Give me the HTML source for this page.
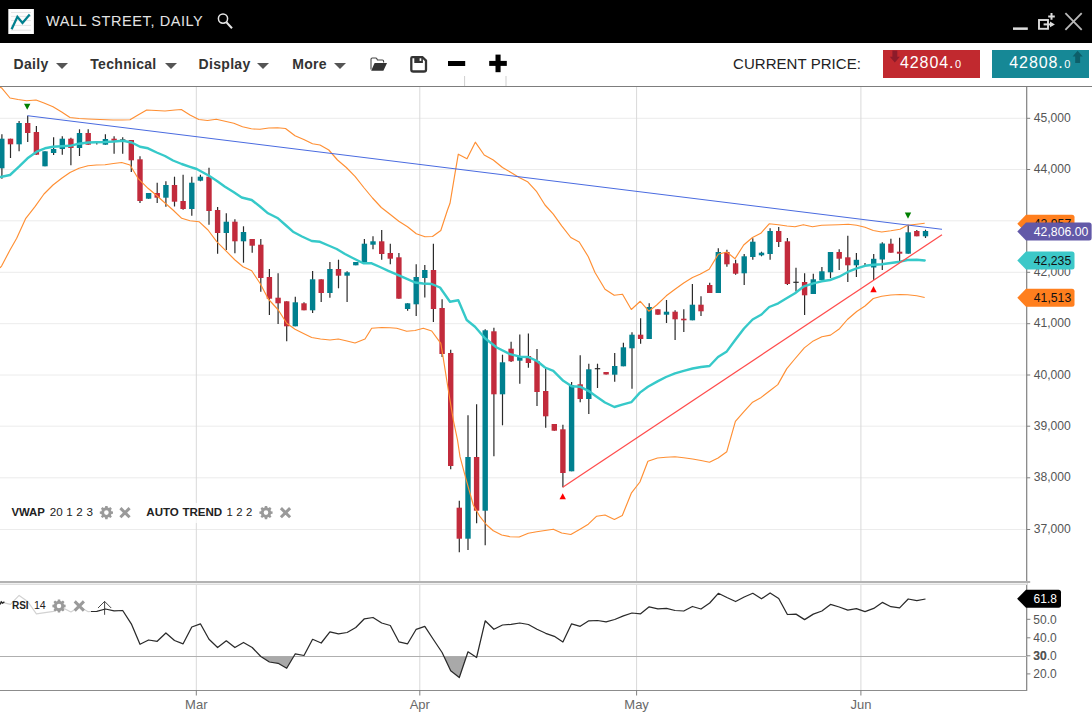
<!DOCTYPE html>
<html><head><meta charset="utf-8"><title>Wall Street, Daily</title>
<style>
html,body{margin:0;padding:0;background:#fff;}
body{width:1092px;height:720px;position:relative;overflow:hidden;font-family:"Liberation Sans",sans-serif;}
#tb{position:absolute;left:0;top:0;width:1092px;height:42.5px;background:#000;}
#ttl{position:absolute;left:46px;top:11.9px;font-size:14.5px;line-height:18px;color:#e4e4e4;letter-spacing:0.58px;white-space:nowrap;}
#bar{position:absolute;left:0;top:43px;width:1092px;height:43px;background:#fff;border-bottom:1px solid #7d7d7d;}
.mi{position:absolute;top:55.3px;font-weight:bold;font-size:14px;line-height:18px;color:#333;letter-spacing:0.3px;white-space:nowrap;}
.ar{position:absolute;top:62.6px;width:0;height:0;border-left:6px solid transparent;border-right:6px solid transparent;border-top:6px solid #555;margin-left:-0.3px;}
#cp{position:absolute;left:733px;top:54.5px;font-size:15px;line-height:18px;color:#222;white-space:nowrap;letter-spacing:0.05px;}
.pb{position:absolute;top:50px;height:28px;color:#fff;font-size:16px;line-height:28px;letter-spacing:0.9px;white-space:nowrap;}
.pb span{position:absolute;top:-1.5px;}
.pb small{font-size:11px;letter-spacing:0;margin-left:0.6px;}
svg text{font-family:"Liberation Sans",sans-serif;}
.ax{font-size:12px;fill:#555;}
.tg{font-size:12px;}
.mo{font-size:13px;fill:#686868;}
.lg{font-size:11.6px;fill:#222;word-spacing:0.35px;}
</style></head><body>
<svg width="1092" height="720" viewBox="0 0 1092 720" style="position:absolute;left:0;top:0">
<defs><clipPath id="cm"><rect x="0" y="87" width="1027" height="495"/></clipPath><clipPath id="c30"><rect x="0" y="656.2" width="1027" height="34"/></clipPath></defs>
<line x1="0" y1="118.3" x2="1027" y2="118.3" stroke="#ececec" stroke-width="1"/>
<line x1="0" y1="169.5" x2="1027" y2="169.5" stroke="#ececec" stroke-width="1"/>
<line x1="0" y1="220.8" x2="1027" y2="220.8" stroke="#ececec" stroke-width="1"/>
<line x1="0" y1="272.3" x2="1027" y2="272.3" stroke="#ececec" stroke-width="1"/>
<line x1="0" y1="323.7" x2="1027" y2="323.7" stroke="#ececec" stroke-width="1"/>
<line x1="0" y1="375" x2="1027" y2="375" stroke="#ececec" stroke-width="1"/>
<line x1="0" y1="426.2" x2="1027" y2="426.2" stroke="#ececec" stroke-width="1"/>
<line x1="0" y1="477.8" x2="1027" y2="477.8" stroke="#ececec" stroke-width="1"/>
<line x1="0" y1="529.5" x2="1027" y2="529.5" stroke="#ececec" stroke-width="1"/>
<line x1="196.3" y1="87" x2="196.3" y2="690" stroke="#d9d9d9" stroke-width="1"/>
<line x1="419.8" y1="87" x2="419.8" y2="690" stroke="#d9d9d9" stroke-width="1"/>
<line x1="636.6" y1="87" x2="636.6" y2="690" stroke="#d9d9d9" stroke-width="1"/>
<line x1="860.9" y1="87" x2="860.9" y2="690" stroke="#d9d9d9" stroke-width="1"/>
<g clip-path="url(#cm)">
<line x1="1.9" y1="134.3" x2="1.9" y2="178.7" stroke="#2b2b2b" stroke-width="1.2"/>
<rect x="-0.9" y="138.7" width="5.4" height="29.6" fill="#00808f"/>
<line x1="10.5" y1="138.7" x2="10.5" y2="158" stroke="#2b2b2b" stroke-width="1.2"/>
<rect x="7.8" y="138.7" width="5.4" height="5.6" fill="#c22b3c"/>
<line x1="19.1" y1="121" x2="19.1" y2="151.3" stroke="#2b2b2b" stroke-width="1.2"/>
<rect x="16.4" y="123" width="5.4" height="21.3" fill="#00808f"/>
<line x1="27.7" y1="115.7" x2="27.7" y2="142" stroke="#2b2b2b" stroke-width="1.2"/>
<rect x="25" y="123" width="5.4" height="10" fill="#c22b3c"/>
<line x1="36.4" y1="126" x2="36.4" y2="154.7" stroke="#2b2b2b" stroke-width="1.2"/>
<rect x="33.7" y="132" width="5.4" height="22.7" fill="#c22b3c"/>
<line x1="45" y1="151.3" x2="45" y2="166.3" stroke="#2b2b2b" stroke-width="1.2"/>
<rect x="42.3" y="151.3" width="5.4" height="15" fill="#00808f"/>
<line x1="53.6" y1="137.3" x2="53.6" y2="155" stroke="#2b2b2b" stroke-width="1.2"/>
<rect x="50.9" y="149" width="5.4" height="4" fill="#00808f"/>
<line x1="62.3" y1="136.3" x2="62.3" y2="154.7" stroke="#2b2b2b" stroke-width="1.2"/>
<rect x="59.6" y="138.7" width="5.4" height="10.3" fill="#00808f"/>
<line x1="70.9" y1="137.7" x2="70.9" y2="165.3" stroke="#2b2b2b" stroke-width="1.2"/>
<rect x="68.2" y="138.7" width="5.4" height="9.3" fill="#c22b3c"/>
<line x1="79.5" y1="129.3" x2="79.5" y2="156" stroke="#2b2b2b" stroke-width="1.2"/>
<rect x="76.8" y="133" width="5.4" height="15" fill="#00808f"/>
<line x1="88.2" y1="129.3" x2="88.2" y2="144.7" stroke="#2b2b2b" stroke-width="1.2"/>
<rect x="85.5" y="133" width="5.4" height="11.7" fill="#c22b3c"/>
<line x1="96.8" y1="142.3" x2="96.8" y2="144.6" stroke="#2b2b2b" stroke-width="1.2"/>
<line x1="105.4" y1="134.3" x2="105.4" y2="144.7" stroke="#2b2b2b" stroke-width="1.2"/>
<rect x="102.7" y="139" width="5.4" height="5.7" fill="#00808f"/>
<line x1="114.1" y1="136.3" x2="114.1" y2="153.7" stroke="#2b2b2b" stroke-width="1.2"/>
<rect x="111.4" y="138.7" width="5.4" height="2" fill="#c22b3c"/>
<line x1="122.7" y1="137.3" x2="122.7" y2="153.7" stroke="#2b2b2b" stroke-width="1.2"/>
<line x1="120" y1="140" x2="125.4" y2="140" stroke="#2b2b2b" stroke-width="1.2"/>
<line x1="131.3" y1="140" x2="131.3" y2="172" stroke="#2b2b2b" stroke-width="1.2"/>
<rect x="128.6" y="140" width="5.4" height="20.3" fill="#c22b3c"/>
<line x1="140" y1="156.3" x2="140" y2="203" stroke="#2b2b2b" stroke-width="1.2"/>
<rect x="137.3" y="159.3" width="5.4" height="41.7" fill="#c22b3c"/>
<line x1="148.6" y1="193" x2="148.6" y2="198.7" stroke="#2b2b2b" stroke-width="1.2"/>
<rect x="145.9" y="193" width="5.4" height="5.7" fill="#00808f"/>
<line x1="157.2" y1="182.7" x2="157.2" y2="203" stroke="#2b2b2b" stroke-width="1.2"/>
<rect x="154.5" y="193" width="5.4" height="4.7" fill="#c22b3c"/>
<line x1="165.9" y1="181.3" x2="165.9" y2="206.7" stroke="#2b2b2b" stroke-width="1.2"/>
<rect x="163.2" y="185" width="5.4" height="12.7" fill="#00808f"/>
<line x1="174.5" y1="176.7" x2="174.5" y2="206.5" stroke="#2b2b2b" stroke-width="1.2"/>
<rect x="171.8" y="185" width="5.4" height="16.7" fill="#c22b3c"/>
<line x1="183.1" y1="174.7" x2="183.1" y2="209.7" stroke="#2b2b2b" stroke-width="1.2"/>
<rect x="180.4" y="201" width="5.4" height="8" fill="#c22b3c"/>
<line x1="191.8" y1="176.7" x2="191.8" y2="215.7" stroke="#2b2b2b" stroke-width="1.2"/>
<rect x="189.1" y="182.7" width="5.4" height="26.3" fill="#00808f"/>
<line x1="200.4" y1="174.7" x2="200.4" y2="181.3" stroke="#2b2b2b" stroke-width="1.2"/>
<rect x="197.7" y="176.7" width="5.4" height="4" fill="#00808f"/>
<line x1="209" y1="167.7" x2="209" y2="224.7" stroke="#2b2b2b" stroke-width="1.2"/>
<rect x="206.3" y="176.7" width="5.4" height="34.3" fill="#c22b3c"/>
<line x1="217.6" y1="207" x2="217.6" y2="253.7" stroke="#2b2b2b" stroke-width="1.2"/>
<rect x="214.9" y="210" width="5.4" height="23" fill="#c22b3c"/>
<line x1="226.3" y1="213.3" x2="226.3" y2="250" stroke="#2b2b2b" stroke-width="1.2"/>
<rect x="223.6" y="221.7" width="5.4" height="11.3" fill="#00808f"/>
<line x1="234.9" y1="219.3" x2="234.9" y2="253.3" stroke="#2b2b2b" stroke-width="1.2"/>
<rect x="232.2" y="221.7" width="5.4" height="19.6" fill="#c22b3c"/>
<line x1="243.5" y1="226.3" x2="243.5" y2="262.7" stroke="#2b2b2b" stroke-width="1.2"/>
<rect x="240.8" y="232" width="5.4" height="9.3" fill="#00808f"/>
<line x1="252.2" y1="239" x2="252.2" y2="252.7" stroke="#2b2b2b" stroke-width="1.2"/>
<rect x="249.5" y="239" width="5.4" height="6.7" fill="#c22b3c"/>
<line x1="260.8" y1="239" x2="260.8" y2="291.7" stroke="#2b2b2b" stroke-width="1.2"/>
<rect x="258.1" y="244.7" width="5.4" height="33.3" fill="#c22b3c"/>
<line x1="269.4" y1="269" x2="269.4" y2="315" stroke="#2b2b2b" stroke-width="1.2"/>
<rect x="266.7" y="277" width="5.4" height="21.7" fill="#c22b3c"/>
<line x1="278.1" y1="273.3" x2="278.1" y2="324" stroke="#2b2b2b" stroke-width="1.2"/>
<rect x="275.4" y="297.7" width="5.4" height="5.6" fill="#c22b3c"/>
<line x1="286.7" y1="301.3" x2="286.7" y2="341.3" stroke="#2b2b2b" stroke-width="1.2"/>
<rect x="284" y="301.3" width="5.4" height="25" fill="#c22b3c"/>
<line x1="295.3" y1="296.7" x2="295.3" y2="326.3" stroke="#2b2b2b" stroke-width="1.2"/>
<rect x="292.6" y="302.3" width="5.4" height="24" fill="#00808f"/>
<line x1="304" y1="302.3" x2="304" y2="310.3" stroke="#2b2b2b" stroke-width="1.2"/>
<rect x="301.3" y="303.3" width="5.4" height="7" fill="#c22b3c"/>
<line x1="312.6" y1="271" x2="312.6" y2="313" stroke="#2b2b2b" stroke-width="1.2"/>
<rect x="309.9" y="279.3" width="5.4" height="31" fill="#00808f"/>
<line x1="321.2" y1="279.3" x2="321.2" y2="302" stroke="#2b2b2b" stroke-width="1.2"/>
<rect x="318.5" y="279.3" width="5.4" height="13.7" fill="#c22b3c"/>
<line x1="329.9" y1="262" x2="329.9" y2="297.7" stroke="#2b2b2b" stroke-width="1.2"/>
<rect x="327.2" y="269" width="5.4" height="24" fill="#00808f"/>
<line x1="338.5" y1="259.7" x2="338.5" y2="288.3" stroke="#2b2b2b" stroke-width="1.2"/>
<rect x="335.8" y="269" width="5.4" height="6.7" fill="#c22b3c"/>
<line x1="347.1" y1="271.3" x2="347.1" y2="302" stroke="#2b2b2b" stroke-width="1.2"/>
<rect x="344.4" y="272.3" width="5.4" height="3.4" fill="#00808f"/>
<line x1="355.8" y1="262" x2="355.8" y2="265.3" stroke="#2b2b2b" stroke-width="1.2"/>
<rect x="353.1" y="262" width="5.4" height="3.3" fill="#00808f"/>
<line x1="364.4" y1="239" x2="364.4" y2="263" stroke="#2b2b2b" stroke-width="1.2"/>
<rect x="361.7" y="243.7" width="5.4" height="19.3" fill="#00808f"/>
<line x1="373" y1="236.3" x2="373" y2="249.3" stroke="#2b2b2b" stroke-width="1.2"/>
<rect x="370.3" y="241.3" width="5.4" height="3.4" fill="#00808f"/>
<line x1="381.7" y1="230" x2="381.7" y2="259.7" stroke="#2b2b2b" stroke-width="1.2"/>
<rect x="379" y="241.3" width="5.4" height="12.7" fill="#c22b3c"/>
<line x1="390.3" y1="243.7" x2="390.3" y2="264.3" stroke="#2b2b2b" stroke-width="1.2"/>
<rect x="387.6" y="253" width="5.4" height="5.7" fill="#c22b3c"/>
<line x1="398.9" y1="253" x2="398.9" y2="298.7" stroke="#2b2b2b" stroke-width="1.2"/>
<rect x="396.2" y="257.3" width="5.4" height="41.4" fill="#c22b3c"/>
<line x1="407.6" y1="303.3" x2="407.6" y2="310.7" stroke="#2b2b2b" stroke-width="1.2"/>
<rect x="404.9" y="303.3" width="5.4" height="5.7" fill="#00808f"/>
<line x1="416.2" y1="264.3" x2="416.2" y2="316" stroke="#2b2b2b" stroke-width="1.2"/>
<rect x="413.5" y="277" width="5.4" height="27.3" fill="#00808f"/>
<line x1="424.8" y1="265" x2="424.8" y2="297.5" stroke="#2b2b2b" stroke-width="1.2"/>
<rect x="422.1" y="270" width="5.4" height="8" fill="#00808f"/>
<line x1="433.4" y1="243.7" x2="433.4" y2="322" stroke="#2b2b2b" stroke-width="1.2"/>
<rect x="430.8" y="270" width="5.4" height="39" fill="#c22b3c"/>
<line x1="442.1" y1="299.3" x2="442.1" y2="357" stroke="#2b2b2b" stroke-width="1.2"/>
<rect x="439.4" y="308" width="5.4" height="46" fill="#c22b3c"/>
<line x1="450.7" y1="349.7" x2="450.7" y2="469.3" stroke="#2b2b2b" stroke-width="1.2"/>
<rect x="448" y="353" width="5.4" height="113" fill="#c22b3c"/>
<line x1="459.3" y1="500.7" x2="459.3" y2="552.3" stroke="#2b2b2b" stroke-width="1.2"/>
<rect x="456.6" y="507.7" width="5.4" height="31" fill="#c22b3c"/>
<line x1="468" y1="415.3" x2="468" y2="550" stroke="#2b2b2b" stroke-width="1.2"/>
<rect x="465.3" y="457" width="5.4" height="81.7" fill="#00808f"/>
<line x1="476.6" y1="404.2" x2="476.6" y2="523.3" stroke="#2b2b2b" stroke-width="1.2"/>
<rect x="473.9" y="457" width="5.4" height="53.7" fill="#c22b3c"/>
<line x1="485.2" y1="329.3" x2="485.2" y2="545.3" stroke="#2b2b2b" stroke-width="1.2"/>
<rect x="482.5" y="330.3" width="5.4" height="180.4" fill="#00808f"/>
<line x1="493.9" y1="327.7" x2="493.9" y2="456.3" stroke="#2b2b2b" stroke-width="1.2"/>
<rect x="491.2" y="331.3" width="5.4" height="63" fill="#c22b3c"/>
<line x1="502.5" y1="354.7" x2="502.5" y2="425.3" stroke="#2b2b2b" stroke-width="1.2"/>
<rect x="499.8" y="362.3" width="5.4" height="32" fill="#00808f"/>
<line x1="511.1" y1="341.7" x2="511.1" y2="362" stroke="#2b2b2b" stroke-width="1.2"/>
<rect x="508.4" y="348.7" width="5.4" height="12.6" fill="#c22b3c"/>
<line x1="519.8" y1="334.5" x2="519.8" y2="383.7" stroke="#2b2b2b" stroke-width="1.2"/>
<rect x="517.1" y="357" width="5.4" height="3.7" fill="#00808f"/>
<line x1="528.4" y1="333.5" x2="528.4" y2="367.7" stroke="#2b2b2b" stroke-width="1.2"/>
<rect x="525.7" y="356" width="5.4" height="7" fill="#c22b3c"/>
<line x1="537" y1="349" x2="537" y2="406" stroke="#2b2b2b" stroke-width="1.2"/>
<rect x="534.3" y="361" width="5.4" height="31" fill="#c22b3c"/>
<line x1="545.7" y1="368.3" x2="545.7" y2="427.7" stroke="#2b2b2b" stroke-width="1.2"/>
<rect x="543" y="391" width="5.4" height="25.3" fill="#c22b3c"/>
<line x1="554.3" y1="424" x2="554.3" y2="430.7" stroke="#2b2b2b" stroke-width="1.2"/>
<rect x="551.6" y="424" width="5.4" height="6.7" fill="#c22b3c"/>
<line x1="562.9" y1="424.7" x2="562.9" y2="487.3" stroke="#2b2b2b" stroke-width="1.2"/>
<rect x="560.2" y="429.3" width="5.4" height="43.7" fill="#c22b3c"/>
<line x1="571.6" y1="382" x2="571.6" y2="471.3" stroke="#2b2b2b" stroke-width="1.2"/>
<rect x="568.9" y="385.3" width="5.4" height="86" fill="#00808f"/>
<line x1="580.2" y1="355.3" x2="580.2" y2="402.3" stroke="#2b2b2b" stroke-width="1.2"/>
<rect x="577.5" y="384.3" width="5.4" height="14.7" fill="#c22b3c"/>
<line x1="588.8" y1="363.7" x2="588.8" y2="414" stroke="#2b2b2b" stroke-width="1.2"/>
<rect x="586.1" y="369.3" width="5.4" height="29.7" fill="#00808f"/>
<line x1="597.5" y1="363.7" x2="597.5" y2="388" stroke="#2b2b2b" stroke-width="1.2"/>
<line x1="594.8" y1="368.7" x2="600.2" y2="368.7" stroke="#2b2b2b" stroke-width="1.2"/>
<line x1="606.1" y1="372" x2="606.1" y2="374.5" stroke="#2b2b2b" stroke-width="1.2"/>
<rect x="603.4" y="372" width="5.4" height="2.5" fill="#c22b3c"/>
<line x1="614.7" y1="353" x2="614.7" y2="381.7" stroke="#2b2b2b" stroke-width="1.2"/>
<rect x="612" y="366" width="5.4" height="8.7" fill="#00808f"/>
<line x1="623.4" y1="342.7" x2="623.4" y2="366.3" stroke="#2b2b2b" stroke-width="1.2"/>
<rect x="620.7" y="347.3" width="5.4" height="19" fill="#00808f"/>
<line x1="632" y1="332.3" x2="632" y2="388.7" stroke="#2b2b2b" stroke-width="1.2"/>
<rect x="629.3" y="334.7" width="5.4" height="13.6" fill="#00808f"/>
<line x1="640.6" y1="318.3" x2="640.6" y2="343.7" stroke="#2b2b2b" stroke-width="1.2"/>
<rect x="637.9" y="334.7" width="5.4" height="4.3" fill="#c22b3c"/>
<line x1="649.2" y1="303.3" x2="649.2" y2="339" stroke="#2b2b2b" stroke-width="1.2"/>
<rect x="646.5" y="307" width="5.4" height="32" fill="#00808f"/>
<line x1="657.9" y1="309.3" x2="657.9" y2="314.7" stroke="#2b2b2b" stroke-width="1.2"/>
<rect x="655.2" y="309.3" width="5.4" height="5.4" fill="#c22b3c"/>
<line x1="666.5" y1="300" x2="666.5" y2="323" stroke="#2b2b2b" stroke-width="1.2"/>
<rect x="663.8" y="311.7" width="5.4" height="3" fill="#00808f"/>
<line x1="675.1" y1="310.3" x2="675.1" y2="340" stroke="#2b2b2b" stroke-width="1.2"/>
<rect x="672.4" y="311.7" width="5.4" height="7.6" fill="#c22b3c"/>
<line x1="683.8" y1="309.3" x2="683.8" y2="332" stroke="#2b2b2b" stroke-width="1.2"/>
<rect x="681.1" y="318.7" width="5.4" height="1.6" fill="#c22b3c"/>
<line x1="692.4" y1="284" x2="692.4" y2="320.3" stroke="#2b2b2b" stroke-width="1.2"/>
<rect x="689.7" y="304.7" width="5.4" height="15.6" fill="#00808f"/>
<line x1="701" y1="296.3" x2="701" y2="316" stroke="#2b2b2b" stroke-width="1.2"/>
<rect x="698.3" y="304.7" width="5.4" height="6.6" fill="#c22b3c"/>
<line x1="709.7" y1="282.7" x2="709.7" y2="293" stroke="#2b2b2b" stroke-width="1.2"/>
<rect x="707" y="285" width="5.4" height="8" fill="#c22b3c"/>
<line x1="718.3" y1="248.3" x2="718.3" y2="293" stroke="#2b2b2b" stroke-width="1.2"/>
<rect x="715.6" y="252" width="5.4" height="41" fill="#00808f"/>
<line x1="726.9" y1="249.7" x2="726.9" y2="266.7" stroke="#2b2b2b" stroke-width="1.2"/>
<rect x="724.2" y="252" width="5.4" height="12.3" fill="#c22b3c"/>
<line x1="735.6" y1="259.7" x2="735.6" y2="274.7" stroke="#2b2b2b" stroke-width="1.2"/>
<rect x="732.9" y="263.3" width="5.4" height="10.4" fill="#c22b3c"/>
<line x1="744.2" y1="254" x2="744.2" y2="285" stroke="#2b2b2b" stroke-width="1.2"/>
<rect x="741.5" y="256.3" width="5.4" height="17" fill="#00808f"/>
<line x1="752.8" y1="238.3" x2="752.8" y2="259.7" stroke="#2b2b2b" stroke-width="1.2"/>
<rect x="750.1" y="241.7" width="5.4" height="15.3" fill="#00808f"/>
<line x1="761.5" y1="251.7" x2="761.5" y2="256.3" stroke="#2b2b2b" stroke-width="1.2"/>
<rect x="758.8" y="252.7" width="5.4" height="2.6" fill="#00808f"/>
<line x1="770.1" y1="228.3" x2="770.1" y2="259.7" stroke="#2b2b2b" stroke-width="1.2"/>
<rect x="767.4" y="231" width="5.4" height="23" fill="#00808f"/>
<line x1="778.7" y1="227" x2="778.7" y2="247" stroke="#2b2b2b" stroke-width="1.2"/>
<rect x="776" y="231" width="5.4" height="11" fill="#c22b3c"/>
<line x1="787.4" y1="238" x2="787.4" y2="285" stroke="#2b2b2b" stroke-width="1.2"/>
<rect x="784.7" y="241.3" width="5.4" height="42.7" fill="#c22b3c"/>
<line x1="796" y1="267.7" x2="796" y2="291.3" stroke="#2b2b2b" stroke-width="1.2"/>
<line x1="793.3" y1="282.3" x2="798.7" y2="282.3" stroke="#2b2b2b" stroke-width="1.2"/>
<line x1="804.6" y1="273.3" x2="804.6" y2="315" stroke="#2b2b2b" stroke-width="1.2"/>
<rect x="801.9" y="282" width="5.4" height="13.3" fill="#c22b3c"/>
<line x1="813.3" y1="273.7" x2="813.3" y2="294" stroke="#2b2b2b" stroke-width="1.2"/>
<rect x="810.6" y="279.3" width="5.4" height="14.7" fill="#00808f"/>
<line x1="821.9" y1="267" x2="821.9" y2="280.3" stroke="#2b2b2b" stroke-width="1.2"/>
<rect x="819.2" y="271.3" width="5.4" height="9" fill="#00808f"/>
<line x1="830.5" y1="252" x2="830.5" y2="278" stroke="#2b2b2b" stroke-width="1.2"/>
<rect x="827.8" y="252" width="5.4" height="20.3" fill="#00808f"/>
<line x1="839.2" y1="249.3" x2="839.2" y2="270" stroke="#2b2b2b" stroke-width="1.2"/>
<rect x="836.5" y="252" width="5.4" height="6.7" fill="#c22b3c"/>
<line x1="847.8" y1="235.7" x2="847.8" y2="282" stroke="#2b2b2b" stroke-width="1.2"/>
<rect x="845.1" y="257.3" width="5.4" height="8" fill="#c22b3c"/>
<line x1="856.4" y1="253" x2="856.4" y2="277" stroke="#2b2b2b" stroke-width="1.2"/>
<rect x="853.7" y="259.8" width="5.4" height="5.5" fill="#00808f"/>
<line x1="865" y1="263" x2="865" y2="266" stroke="#2b2b2b" stroke-width="1.2"/>
<line x1="873.7" y1="254" x2="873.7" y2="280" stroke="#2b2b2b" stroke-width="1.2"/>
<rect x="871" y="258.8" width="5.4" height="8.7" fill="#00808f"/>
<line x1="882.3" y1="242.3" x2="882.3" y2="270" stroke="#2b2b2b" stroke-width="1.2"/>
<rect x="879.6" y="243.5" width="5.4" height="16" fill="#00808f"/>
<line x1="890.9" y1="238.7" x2="890.9" y2="252.7" stroke="#2b2b2b" stroke-width="1.2"/>
<rect x="888.2" y="243.7" width="5.4" height="9" fill="#c22b3c"/>
<line x1="899.6" y1="237.7" x2="899.6" y2="261" stroke="#2b2b2b" stroke-width="1.2"/>
<rect x="896.9" y="251.7" width="5.4" height="2" fill="#c22b3c"/>
<line x1="908.2" y1="224.7" x2="908.2" y2="253.7" stroke="#2b2b2b" stroke-width="1.2"/>
<rect x="905.5" y="232.3" width="5.4" height="21.4" fill="#00808f"/>
<line x1="916.8" y1="230" x2="916.8" y2="236.3" stroke="#2b2b2b" stroke-width="1.2"/>
<rect x="914.1" y="231" width="5.4" height="5.3" fill="#c22b3c"/>
<line x1="925.5" y1="229.7" x2="925.5" y2="238" stroke="#2b2b2b" stroke-width="1.2"/>
<rect x="922.8" y="231" width="5.4" height="5.3" fill="#00808f"/>
<polyline points="0,87 2,88.3 10,98 18,99.5 26.7,100.8 36,100 44,103 53,106.7 61.7,112 70,117.5 79,118.5 88,119 100,119.5 113,120 122,120 130,119.7 138,115 146.7,110 156,110.5 165,111 175,110 181.3,109.5 190,115 198.8,119.5 207.5,120.5 216.3,119.3 225,121.3 233.8,123.3 242.5,126.8 251.3,128.8 260,129.3 268.8,128 277.5,127.8 285.5,128.5 295,135.8 303.8,139.5 312.5,143.8 320,145 328.8,150 337.5,160 346.3,167.5 355,176.3 363.8,187.5 372.5,198 381.3,207.5 390,214.3 398.8,221.3 407.5,226.8 416.3,233.8 425,236.8 432.5,236.5 440.8,230.5 447.5,210 450,203.3 455,173.3 458.3,154.2 467,158.8 475.3,142.2 484.2,155 493.3,160 502.5,167.5 511,172.5 519.2,177.5 527.5,181.7 536.7,191.7 545,205 553.3,214.2 561.7,225.8 570.8,237.5 579.2,242 588.3,256.7 595,272.5 605,289.2 614.2,295.3 622.5,294.2 631.3,309.5 640.3,301.3 648.8,311.2 656.7,305 666.3,295.8 675,289.2 683.7,283 692.5,277.5 700,274.2 709.2,269.2 718.3,254.2 726.7,252 735,258.7 743.7,245 752.5,237.5 760.8,233.3 769.2,223.8 778.3,224.7 787,226 795,226.7 803.3,224.7 812.5,226.7 821.7,225.3 830,225 838.3,224.7 848.3,224.2 856.7,225.3 865,227.3 873.3,230.5 881.7,232 890.8,230.8 900,229.2 907.5,225.3 916.7,224.2 924.7,223.3" fill="none" stroke="#ff8f33" stroke-width="1.15" stroke-linejoin="round"/>
<polyline points="0,268 1.7,265.8 10,250 16.7,238.3 25.8,218.3 35,206.7 44,194 53,185 61.7,178.3 70,172.5 79,168.3 88,165.8 96.5,165 105,164.7 113.5,163.5 121.7,162.5 130,165 138,178.3 148,188.3 156.7,195.5 165,203 173,210 181.7,218.3 190,220.8 199,221.7 208,230 216.7,241.7 226.7,251.7 235,260 243,266.7 251.7,270.8 260,283.3 268.3,299 278.3,310 286.7,323.3 295,329.2 303.5,333.5 311.7,337.5 320.5,339 330,340 338.3,339 347,341 355,343 365,339 371.7,328.3 381.7,327.5 390,327.8 396.7,328.3 406.7,331.3 415,330.5 423.3,328.3 431.7,331 440.8,343.3 443.3,358.3 448.3,390 453.3,420 457.5,440 460,456.7 465.8,478.3 473.3,505 480,516.7 486.7,525 493.3,530.8 501.7,535 510,536.7 519.2,537 528.3,533.3 536.7,531.7 545,530.5 553.3,529.2 561.7,533 570.8,534.5 580,529.2 588.3,524.2 596.7,516.2 605,515 614.4,519.4 622.3,515.5 631.3,493.2 639.9,482 647.9,461.3 657.5,458 666,457.2 675,456.8 683.7,457.8 692.6,459 701,460.5 709.5,462.2 718.1,458 726.8,451.7 735.4,421.3 743.7,411.8 752.6,402.2 761.2,397.4 769.5,391 777.8,384.6 786.8,368.6 794.8,359 804.3,347.9 813.3,340.9 821.9,336.7 830.5,335.1 839.5,328.7 847.4,319.5 856.7,311.5 865,306 873.3,298.5 881.7,296.3 890.8,295 900,294.5 907.5,294.7 916.7,295.8 924.7,297.5" fill="none" stroke="#ff8f33" stroke-width="1.15" stroke-linejoin="round"/>
<polyline points="0,177 1.7,176.7 10,175 19,166.7 27.5,158.3 36.7,151.7 45,148.3 53,146.7 61.5,146.2 70,145.8 79,143.7 88,142.5 96.5,142.2 105,142 114,141.5 123,140.8 131.7,142.5 140,146.7 148,148.3 156.7,152.5 165,156 173,160.5 181.7,164 190,166.8 196.7,169 209,175.8 217,181 225,186.7 233.5,192 241.7,197.5 251.7,200 260,206.5 268,213.3 278,218.3 285.5,225 293,231.7 302,236.5 311.7,241 320,241.8 328.5,245.5 336.7,249 345,254 351.7,257.5 363.3,263.3 371.7,263.3 380,267 388.3,270.8 400,275.8 407.5,279.2 415,282.5 423,283.5 431.7,284 440,287.5 450,301.7 458.3,300.3 466.7,320 475,326.7 485,338.3 496.7,347.5 510,354.2 520,356.7 528.3,357 536.7,360.8 545,367.5 553.3,370.8 563.3,380.8 571.7,386.3 580,386.7 588.3,390.8 596.7,396.7 605,402.5 614.4,407 622.3,404.7 631.3,402.2 639.9,392.6 647.9,386.8 657.5,381.4 666,377 675,373.4 683.7,370.8 692.6,368.5 701,367 709.5,366 718,357 726.8,351.4 735.2,340 744,328.5 752.6,319.5 761.5,314.5 769.2,307 778.3,303.3 787,298 795,293.3 803.3,286.7 813.3,283.3 821.7,281.3 830,280 839.2,276.7 848.3,271.7 856.7,268.3 865,265.8 873.3,264.8 881.7,264.2 890.8,263 900,261.7 907.5,260 916.7,259.7 924.7,260.5" fill="none" stroke="#36c9c9" stroke-width="2.4" stroke-linejoin="round" stroke-linecap="round"/>
<line x1="27.4" y1="115.7" x2="942" y2="229.3" stroke="#4a6be0" stroke-width="1"/>
<line x1="562.7" y1="487.3" x2="942" y2="234.7" stroke="#ff4d4d" stroke-width="1.25"/>
<polygon points="24,103.7 30.4,103.7 27.2,109.8" fill="#008000"/>
<polygon points="904.8,212.5 911.2,212.5 908,218.8" fill="#008000"/>
<polygon points="559.5,499.3 565.9,499.3 562.7,493.2" fill="#ff0000"/>
<polygon points="870.3,292.2 876.7,292.2 873.5,286" fill="#ff0000"/>
</g>
<line x1="1026.7" y1="87" x2="1026.7" y2="690" stroke="#808080" stroke-width="1.2"/>
<line x1="1027" y1="118.3" x2="1030.2" y2="118.3" stroke="#808080" stroke-width="1"/>
<text x="1033.7" y="121.9" class="ax" textLength="37.1" lengthAdjust="spacingAndGlyphs">45,000</text>
<line x1="1027" y1="169.5" x2="1030.2" y2="169.5" stroke="#808080" stroke-width="1"/>
<text x="1033.7" y="173.1" class="ax" textLength="37.1" lengthAdjust="spacingAndGlyphs">44,000</text>
<line x1="1027" y1="220.8" x2="1030.2" y2="220.8" stroke="#808080" stroke-width="1"/>
<text x="1033.7" y="224.4" class="ax" textLength="37.1" lengthAdjust="spacingAndGlyphs">43,000</text>
<line x1="1027" y1="272.3" x2="1030.2" y2="272.3" stroke="#808080" stroke-width="1"/>
<text x="1033.7" y="275.9" class="ax" textLength="37.1" lengthAdjust="spacingAndGlyphs">42,000</text>
<line x1="1027" y1="323.7" x2="1030.2" y2="323.7" stroke="#808080" stroke-width="1"/>
<text x="1033.7" y="327.3" class="ax" textLength="37.1" lengthAdjust="spacingAndGlyphs">41,000</text>
<line x1="1027" y1="375" x2="1030.2" y2="375" stroke="#808080" stroke-width="1"/>
<text x="1033.7" y="378.6" class="ax" textLength="37.1" lengthAdjust="spacingAndGlyphs">40,000</text>
<line x1="1027" y1="426.2" x2="1030.2" y2="426.2" stroke="#808080" stroke-width="1"/>
<text x="1033.7" y="429.8" class="ax" textLength="37.1" lengthAdjust="spacingAndGlyphs">39,000</text>
<line x1="1027" y1="477.8" x2="1030.2" y2="477.8" stroke="#808080" stroke-width="1"/>
<text x="1033.7" y="481.4" class="ax" textLength="37.1" lengthAdjust="spacingAndGlyphs">38,000</text>
<line x1="1027" y1="529.5" x2="1030.2" y2="529.5" stroke="#808080" stroke-width="1"/>
<text x="1033.7" y="533.1" class="ax" textLength="37.1" lengthAdjust="spacingAndGlyphs">37,000</text>
<path d="M1017.3,223.7 L1026,214.7 L1072,214.7 Q1074.5,214.7 1074.5,217.2 L1074.5,230.2 Q1074.5,232.7 1072,232.7 L1026,232.7 Z" fill="#ff7f1e"/>
<text x="1033.8" y="228" class="tg" fill="#111" textLength="37.4" lengthAdjust="spacingAndGlyphs">42,957</text>
<path d="M1017.3,297.7 L1026,288.7 L1072,288.7 Q1074.5,288.7 1074.5,291.2 L1074.5,304.2 Q1074.5,306.7 1072,306.7 L1026,306.7 Z" fill="#ff7f1e"/>
<text x="1033.8" y="302" class="tg" fill="#111" textLength="37.4" lengthAdjust="spacingAndGlyphs">41,513</text>
<path d="M1017.3,260.5 L1026,251.5 L1072,251.5 Q1074.5,251.5 1074.5,254 L1074.5,267 Q1074.5,269.5 1072,269.5 L1026,269.5 Z" fill="#3cc8c8"/>
<text x="1033.8" y="264.8" class="tg" fill="#111" textLength="37.4" lengthAdjust="spacingAndGlyphs">42,235</text>
<path d="M1017.3,231.5 L1026,222.5 L1089.1,222.5 Q1091.6,222.5 1091.6,225 L1091.6,238 Q1091.6,240.5 1089.1,240.5 L1026,240.5 Z" fill="#6259a8"/>
<text x="1033.8" y="235.8" class="tg" fill="#fff" textLength="54.5" lengthAdjust="spacingAndGlyphs">42,806.00</text>
<rect x="0" y="581" width="1030.2" height="2" fill="#b2b2b2"/>
<rect x="0" y="583" width="1027" height="1" fill="#f0f0f0"/>
<rect x="0" y="584" width="1027" height="1" fill="#dedede"/>
<line x1="0" y1="656.5" x2="1027" y2="656.5" stroke="#b0b0b0" stroke-width="1"/>
<polygon points="0,656.2 0,601.9 10.5,604.3 19.1,595.4 27.7,601.5 36.4,613.8 45,612.6 53.6,611.4 62.3,607.6 70.9,612 79.5,606.7 88.2,611.7 96.8,611.3 105.4,609 114.1,610.8 122.7,610.5 131.3,623.8 140,644.3 148.6,640 157.2,641.3 165.9,633 174.5,640.5 183.1,643.8 191.8,627 200.4,623.8 209,639.3 217.6,647.5 226.3,640.8 234.9,647.5 243.5,642.5 252.2,647.5 260.8,656.5 269.4,662 278.1,663.3 286.7,668.3 295.3,653.8 304,655.5 312.6,639.3 321.2,643 329.9,631.8 338.5,633.8 347.1,632.5 355.8,627.5 364.4,618.8 373,617.5 381.7,623 390.3,625.5 398.9,641.8 407.6,643.8 416.2,629.3 424.8,626.3 433.4,639.5 442.1,652.5 450.7,670.8 459.3,677.5 468,651.8 476.6,657.5 485.2,620.8 493.9,629.3 502.5,625 511.1,624.3 519.8,623 528.4,624.5 537,629.3 545.7,633.3 554.3,636.3 562.9,642 571.6,623.8 580.2,626.3 588.8,620.8 597.5,620.5 606.1,621.8 614.7,619.5 623.4,615.8 632,613 640.6,613.8 649.2,606.8 657.9,608.8 666.5,608.3 675.1,610.5 683.8,611 692.4,606.5 701,609 709.7,603 718.3,593.3 726.9,597.5 735.6,601.5 744.2,597 752.8,593.3 761.5,598.8 770.1,593 778.7,598.5 787.4,614.5 796,614.1 804.6,619.6 813.3,614.1 821.9,611 830.5,604.4 839.2,607 847.8,610.1 856.4,608.7 865,611.6 873.7,608.4 882.3,602.4 890.9,606.7 899.6,607.9 908.2,599 916.8,600.7 925.5,599 925.5,656.2" fill="#a9a9a9" clip-path="url(#c30)"/>
<polyline points="0,601.9 10.5,604.3 19.1,595.4 27.7,601.5 36.4,613.8 45,612.6 53.6,611.4 62.3,607.6 70.9,612 79.5,606.7 88.2,611.7 91,611.5" fill="none" stroke="#d2d2d2" stroke-width="1.2" stroke-linejoin="round"/>
<polyline points="91,611.5 96.8,611.3 105.4,609 114.1,610.8 122.7,610.5 131.3,623.8 140,644.3 148.6,640 157.2,641.3 165.9,633 174.5,640.5 183.1,643.8 191.8,627 200.4,623.8 209,639.3 217.6,647.5 226.3,640.8 234.9,647.5 243.5,642.5 252.2,647.5 260.8,656.5 269.4,662 278.1,663.3 286.7,668.3 295.3,653.8 304,655.5 312.6,639.3 321.2,643 329.9,631.8 338.5,633.8 347.1,632.5 355.8,627.5 364.4,618.8 373,617.5 381.7,623 390.3,625.5 398.9,641.8 407.6,643.8 416.2,629.3 424.8,626.3 433.4,639.5 442.1,652.5 450.7,670.8 459.3,677.5 468,651.8 476.6,657.5 485.2,620.8 493.9,629.3 502.5,625 511.1,624.3 519.8,623 528.4,624.5 537,629.3 545.7,633.3 554.3,636.3 562.9,642 571.6,623.8 580.2,626.3 588.8,620.8 597.5,620.5 606.1,621.8 614.7,619.5 623.4,615.8 632,613 640.6,613.8 649.2,606.8 657.9,608.8 666.5,608.3 675.1,610.5 683.8,611 692.4,606.5 701,609 709.7,603 718.3,593.3 726.9,597.5 735.6,601.5 744.2,597 752.8,593.3 761.5,598.8 770.1,593 778.7,598.5 787.4,614.5 796,614.1 804.6,619.6 813.3,614.1 821.9,611 830.5,604.4 839.2,607 847.8,610.1 856.4,608.7 865,611.6 873.7,608.4 882.3,602.4 890.9,606.7 899.6,607.9 908.2,599 916.8,600.7 925.5,599" fill="none" stroke="#2a2a2a" stroke-width="1.25" stroke-linejoin="round"/>
<line x1="0" y1="690.5" x2="1027.3" y2="690.5" stroke="#8c8c8c" stroke-width="1"/>
<line x1="1027" y1="619.3" x2="1030.4" y2="619.3" stroke="#808080" stroke-width="1"/>
<text x="1033.3" y="623.5" class="ax">50.0</text>
<line x1="1027" y1="637.8" x2="1030.4" y2="637.8" stroke="#808080" stroke-width="1"/>
<text x="1033.3" y="642" class="ax">40.0</text>
<line x1="1027" y1="655.8" x2="1030.4" y2="655.8" stroke="#808080" stroke-width="1"/>
<text x="1033.3" y="660" class="ax">30.0</text>
<line x1="1027" y1="673.9" x2="1030.4" y2="673.9" stroke="#808080" stroke-width="1"/>
<text x="1033.3" y="678.1" class="ax">20.0</text>
<text x="1033.3" y="660" class="ax" style="font-weight:bold" fill="#222">30</text>
<path d="M1017.1,598.7 L1026,589.7 L1058.5,589.7 Q1061,589.7 1061,592.2 L1061,605.3 Q1061,607.8 1058.5,607.8 L1026,607.8 Z" fill="#000"/>
<text x="1033.6" y="603" class="tg" fill="#fff">61.8</text>
<line x1="196.3" y1="690" x2="196.3" y2="695.5" stroke="#808080" stroke-width="1"/>
<text x="196.3" y="708.6" class="mo" text-anchor="middle">Mar</text>
<line x1="419.8" y1="690" x2="419.8" y2="695.5" stroke="#808080" stroke-width="1"/>
<text x="419.8" y="708.6" class="mo" text-anchor="middle">Apr</text>
<line x1="636.6" y1="690" x2="636.6" y2="695.5" stroke="#808080" stroke-width="1"/>
<text x="636.6" y="708.6" class="mo" text-anchor="middle">May</text>
<line x1="860.9" y1="690" x2="860.9" y2="695.5" stroke="#808080" stroke-width="1"/>
<text x="860.9" y="708.6" class="mo" text-anchor="middle">Jun</text>
<rect x="6" y="503" width="290" height="20" fill="#fff" fill-opacity="0.72"/>
<text x="11.4" y="516" class="lg" font-weight="bold" textLength="33.5" lengthAdjust="spacingAndGlyphs">VWAP</text>
<text x="49.7" y="516" class="lg" textLength="43.2" lengthAdjust="spacingAndGlyphs">20 1 2 3</text>
<path d="M113,511.4 L113,513.8 L111.4,514 L110.9,515.2 L111.9,516.5 L110.3,518.1 L109,517.1 L107.8,517.6 L107.6,519.2 L105.2,519.2 L105,517.6 L103.8,517.1 L102.5,518.1 L100.9,516.5 L101.9,515.2 L101.4,514 L99.8,513.8 L99.8,511.4 L101.4,511.2 L101.9,510 L100.9,508.7 L102.5,507.1 L103.8,508.1 L105,507.6 L105.2,506 L107.6,506 L107.8,507.6 L109,508.1 L110.3,507.1 L111.9,508.7 L110.9,510 L111.4,511.2 Z M104.1,512.6 a2.3,2.3 0 1,0 4.6,0 a2.3,2.3 0 1,0 -4.6,0 Z" fill="#9a9a9a" fill-rule="evenodd"/>
<path d="M120.4,508.1 L129.6,517.3 M129.6,508.1 L120.4,517.3" stroke="#9a9a9a" stroke-width="3" fill="none"/>
<text x="146.3" y="516" class="lg" font-weight="bold" textLength="75.9" lengthAdjust="spacingAndGlyphs">AUTO TREND</text>
<text x="226.4" y="516" class="lg" textLength="25.9" lengthAdjust="spacingAndGlyphs">1 2 2</text>
<path d="M272.6,511.4 L272.6,513.8 L271,514 L270.5,515.2 L271.5,516.5 L269.9,518.1 L268.6,517.1 L267.4,517.6 L267.2,519.2 L264.8,519.2 L264.6,517.6 L263.4,517.1 L262.1,518.1 L260.5,516.5 L261.5,515.2 L261,514 L259.4,513.8 L259.4,511.4 L261,511.2 L261.5,510 L260.5,508.7 L262.1,507.1 L263.4,508.1 L264.6,507.6 L264.8,506 L267.2,506 L267.4,507.6 L268.6,508.1 L269.9,507.1 L271.5,508.7 L270.5,510 L271,511.2 Z M263.7,512.6 a2.3,2.3 0 1,0 4.6,0 a2.3,2.3 0 1,0 -4.6,0 Z" fill="#9a9a9a" fill-rule="evenodd"/>
<path d="M280.9,508.1 L290.1,517.3 M290.1,508.1 L280.9,517.3" stroke="#9a9a9a" stroke-width="3" fill="none"/>
<text x="11.9" y="608.8" class="lg" font-weight="bold" textLength="16.7" lengthAdjust="spacingAndGlyphs">RSI</text>
<text x="33.9" y="608.8" class="lg" textLength="11.9" lengthAdjust="spacingAndGlyphs">14</text>
<path d="M65.6,604.8 L65.6,607.2 L64,607.4 L63.5,608.6 L64.5,609.9 L62.9,611.5 L61.6,610.5 L60.4,611 L60.2,612.6 L57.8,612.6 L57.6,611 L56.4,610.5 L55.1,611.5 L53.5,609.9 L54.5,608.6 L54,607.4 L52.4,607.2 L52.4,604.8 L54,604.6 L54.5,603.4 L53.5,602.1 L55.1,600.5 L56.4,601.5 L57.6,601 L57.8,599.4 L60.2,599.4 L60.4,601 L61.6,601.5 L62.9,600.5 L64.5,602.1 L63.5,603.4 L64,604.6 Z M56.7,606 a2.3,2.3 0 1,0 4.6,0 a2.3,2.3 0 1,0 -4.6,0 Z" fill="#9a9a9a" fill-rule="evenodd"/>
<path d="M74.7,601.4 L83.9,610.6 M83.9,601.4 L74.7,610.6" stroke="#9a9a9a" stroke-width="3" fill="none"/>
<path d="M0,604.5 L1.3,602 L2.6,603.2 L4.4,601.8" stroke="#222" stroke-width="1.4" fill="none"/>
<path d="M104.6,601.3 L104.6,614.8 M98,608 L104.6,601.4 L111.2,608" stroke="#333" stroke-width="0.9" fill="none"/>
</svg>
<div id="tb">
<svg width="1092" height="43" style="position:absolute;left:0;top:0">
<rect x="8.3" y="9" width="25.6" height="25" fill="#fdfdfd"/>
<g stroke="#e3e3e3" stroke-width="1"><line x1="11" y1="12.5" x2="31" y2="12.5"/><line x1="11" y1="16.4" x2="31" y2="16.4"/><line x1="11" y1="20.6" x2="31" y2="20.6"/><line x1="11" y1="25.4" x2="31" y2="25.4"/><line x1="11" y1="30.2" x2="31" y2="30.2"/></g>
<polyline points="11.6,29.3 17.4,16.8 22.5,22.9 29.7,14.5" fill="none" stroke="#00808f" stroke-width="2.3"/>
<circle cx="223" cy="18.6" r="4.6" fill="none" stroke="#e6e6e6" stroke-width="1.5"/>
<line x1="226.4" y1="22.3" x2="232" y2="28.3" stroke="#e6e6e6" stroke-width="2"/>
<rect x="1013" y="27.4" width="14.8" height="2.5" fill="#dcdcdc"/>
<rect x="1039" y="20" width="9" height="8.8" fill="none" stroke="#dcdcdc" stroke-width="1.9"/>
<path d="M1051.5,13 v6.8 M1048.2,16.4 h6.6" stroke="#dcdcdc" stroke-width="2" fill="none"/>
<path d="M1043.6,24.4 h7" stroke="#dcdcdc" stroke-width="2" fill="none"/>
<path d="M1050,21.6 L1054.9,24.4 L1050,27.2 Z" fill="#dcdcdc"/>
<path d="M1065.4,13.1 L1081.7,29.8 M1081.7,13.1 L1065.4,29.8" stroke="#b8b8b8" stroke-width="1.8" fill="none"/>
</svg>
<div id="ttl">WALL STREET, DAILY</div>
</div>
<div id="bar"></div>
<div class="mi" style="left:13.6px">Daily</div><div class="ar" style="left:56.2px"></div>
<div class="mi" style="left:90.3px">Technical</div><div class="ar" style="left:165px"></div>
<div class="mi" style="left:198.6px">Display</div><div class="ar" style="left:257.7px"></div>
<div class="mi" style="left:292.3px">More</div><div class="ar" style="left:334.4px"></div>
<svg width="160" height="40" viewBox="360 48 160 40" style="position:absolute;left:360px;top:48px">
<path d="M371,69.5 V59.3 Q371,58 372.3,58 H375.6 Q376.6,58 377,59 L377.4,60 H382.4 Q383.6,60 383.6,61.2 V62.6" fill="none" stroke="#444" stroke-width="1.1"/>
<path d="M374.6,63 H387 L383.4,70.8 H371.2 Z" fill="#333"/>
<path d="M412.4,57.2 H422.6 L426,60.6 V69.4 Q426,71.5 423.9,71.5 H413.4 Q411.3,71.5 411.3,69.4 V58.3 Q411.3,57.2 412.4,57.2 Z" fill="none" stroke="#333" stroke-width="2.3" stroke-linejoin="round"/>
<rect x="414.3" y="57.2" width="8.6" height="5.8" fill="#333"/>
<rect x="419.6" y="58.3" width="1.7" height="2.6" fill="#fff"/>
<rect x="448" y="61" width="17.2" height="5" fill="#000"/>
<rect x="489.2" y="60.9" width="17.6" height="5" fill="#000"/>
<rect x="495.5" y="54.6" width="5.1" height="17.6" fill="#000"/>
<line x1="464.6" y1="76" x2="464.6" y2="86" stroke="#cfcfcf" stroke-width="1"/>
<line x1="506" y1="76" x2="506" y2="86" stroke="#cfcfcf" stroke-width="1"/>
</svg>
<div id="cp">CURRENT PRICE:</div>
<div class="pb" style="left:883px;width:97px;background:#c1292f;"><span style="left:17px">42804.<small>0</small></span></div>
<div class="pb" style="left:992px;width:97px;background:#168896;"><span style="left:17.3px">42808.<small>0</small></span></div>
<svg width="220" height="30" viewBox="875 49 220 30" style="position:absolute;left:875px;top:49px">
<path d="M892.4,50.4 H897.3 V56.8 H899.9 L894.85,62.6 L889.8,56.8 H892.4 Z" fill="#8d1b2a"/>
<path d="M1075.2,62.9 H1080.1 V56.6 H1082.7 L1077.65,50.8 L1072.6,56.6 H1075.2 Z" fill="#0d5f6a"/>
</svg>
</body></html>
